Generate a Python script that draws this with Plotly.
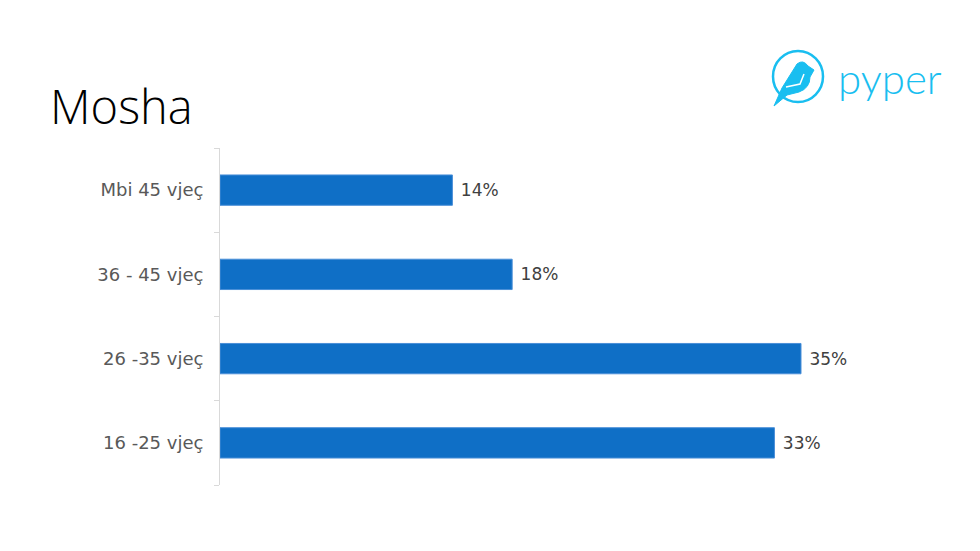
import plotly.graph_objects as go

categories = ["16 -25 vjeç", "26 -35 vjeç", "36 - 45 vjeç", "Mbi 45 vjeç"]
values = [33.4, 35.0, 17.6, 14.0]
labels = ["33%", "35%", "18%", "14%"]

W, H = 980, 551
OX, OY = 8, 8  # page body offset
L, R, T, B = 220 - OX, 100, 148 - OY, 74
PW, PH = W - L - R, H - T - B

def px(x):
    return (x - OX - L) / PW

def py(y):
    return (T + PH - (y - OY)) / PH

FONT = "'DejaVu Sans', 'Open Sans', sans-serif"

fig = go.Figure(go.Bar(
    y=categories, x=values, orientation="h",
    text=labels, texttemplate=" %{text}", textposition="outside",
    textfont=dict(family=FONT, size=17, color="#404040"),
    marker=dict(color="#0F6FC6", line=dict(color="#4a8fd8", width=1)),
    cliponaxis=False,
))

bird = "M {} {} L {} {} Q {} {} {} {} L {} {} L {} {} L {} {} L {} {} Q {} {} {} {} Z".format(
    px(814), py(70), px(808), py(66), px(803), py(59), px(797), py(64),
    px(782), py(88), px(774), py(106), px(787), py(95), px(799), py(92),
    px(810), py(88), px(810), py(77))
wing = "M {} {} L {} {} L {} {}".format(px(786), py(87), px(800), py(84), px(804), py(74))

fig.update_layout(
    width=W, height=H,
    margin=dict(l=L, r=R, t=T, b=B, pad=0),
    paper_bgcolor="white", plot_bgcolor="white",
    showlegend=False,
    bargap=0.64,
    xaxis=dict(range=[0, PW / 16.6], visible=False, fixedrange=True),
    yaxis=dict(
        range=[-0.5, 3.5], showline=True, linecolor="#d9d9d9", linewidth=1,
        ticks="outside", ticklen=5, tickcolor="#d9d9d9", tickson="boundaries",
        ticklabelstandoff=12,
        tickfont=dict(family=FONT, size=18, color="#595959"),
        showgrid=False, zeroline=False,
    ),
    shapes=[
        dict(type="circle", xref="paper", yref="paper",
             x0=px(773), x1=px(823), y0=py(51), y1=py(102),
             line=dict(color="#19BEF0", width=2.5)),
        dict(type="path", xref="paper", yref="paper", path=bird,
             fillcolor="#19BEF0", line=dict(color="#19BEF0", width=1)),
        dict(type="path", xref="paper", yref="paper", path=wing,
             line=dict(color="white", width=1.5)),
    ],
    annotations=[
        dict(text="Mosha", xref="paper", yref="paper", x=px(48), y=py(106),
             xanchor="left", yanchor="middle", showarrow=False,
             font=dict(family="'Open Sans', sans-serif", size=47, color="#000000", weight=300)),
        dict(text="pyper", xref="paper", yref="paper", x=px(836), y=py(78),
             xanchor="left", yanchor="middle", showarrow=False,
             font=dict(family="Lato, sans-serif", size=42, color="#19BEF0", weight=300)),
    ],
)

fig.write_html("out.html")
